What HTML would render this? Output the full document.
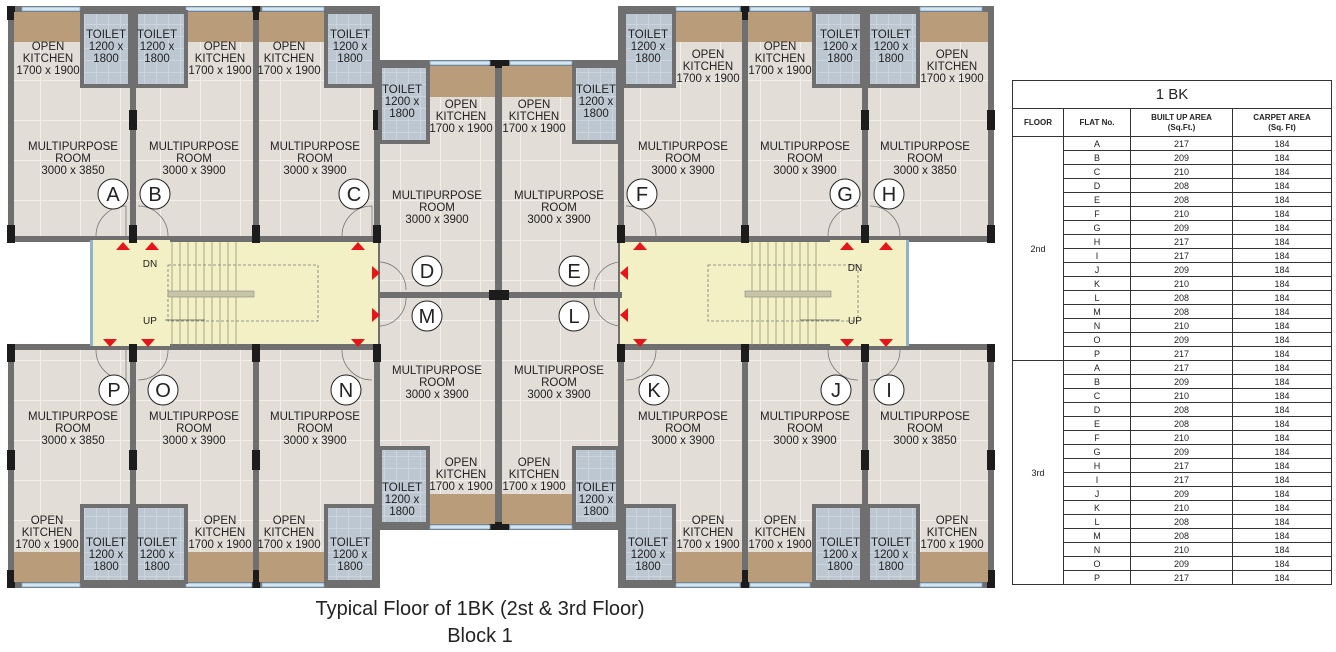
<!DOCTYPE html>
<html><head><meta charset="utf-8"><style>
body{margin:0;width:1336px;height:652px;background:#fff;position:relative;overflow:hidden;font-family:"Liberation Sans",sans-serif}
svg{position:absolute;left:0;top:0}
svg text{font-family:"Liberation Sans",sans-serif;fill:#222;text-anchor:middle}
.t{font-size:11.5px}
.c{font-size:20px}
table{position:absolute;left:1012px;top:80px;width:320px;border-collapse:collapse;font-family:"Liberation Sans",sans-serif;font-size:9px;color:#222}
td{border:1px solid #333;text-align:center;height:13px;padding:0;line-height:12px}
.h td{font-weight:bold;font-size:8px;height:27px;line-height:10px}
</style></head><body>
<svg width="1336" height="652" viewBox="0 0 1336 652">
<defs>
<pattern id="tile" width="40" height="40" patternUnits="userSpaceOnUse">
<rect width="40" height="40" fill="#e3ddd7"/><path d="M0 0.5H40M0.5 0V40" stroke="#f3f0ec" stroke-width="1"/>
</pattern>
<pattern id="tt" width="12" height="12" patternUnits="userSpaceOnUse">
<rect width="12" height="12" fill="#bcc7d2"/><path d="M0 0.5H12M0.5 0V12" stroke="#ccd5de" stroke-width="1"/>
</pattern>
</defs>
<!-- wall blocks -->
<g fill="#6f6f6f">
<rect x="8" y="6" width="372" height="236"/>
<rect x="8" y="344" width="372" height="244"/>
<rect x="374" y="60" width="250" height="470"/>
<rect x="618" y="6" width="376" height="236"/>
<rect x="618" y="344" width="376" height="244"/>
</g>
<g fill="url(#tile)">
<rect x="14" y="12" width="360" height="224"/>
<rect x="14" y="350" width="360" height="232"/>
<rect x="380" y="66" width="238" height="458"/>
<rect x="624" y="12" width="364" height="224"/>
<rect x="624" y="350" width="364" height="232"/>
</g>
<!-- corridors -->
<rect x="92" y="240" width="286" height="106" fill="#f3f0c5"/>
<rect x="620" y="240" width="288" height="106" fill="#f3f0c5"/>
<rect x="90" y="240" width="3" height="106" fill="#8fb3cc"/>
<rect x="906" y="240" width="3" height="106" fill="#8fb3cc"/>
<!-- internal walls -->
<g fill="#6f6f6f">
<rect x="130" y="12" width="6" height="226"/><rect x="253" y="12" width="6" height="226"/>
<rect x="130" y="350" width="6" height="234"/><rect x="253" y="350" width="6" height="234"/>
<rect x="495" y="66" width="7" height="458"/><rect x="378" y="292" width="244" height="6"/>
<rect x="742" y="12" width="6" height="226"/><rect x="862" y="12" width="6" height="226"/>
<rect x="742" y="350" width="6" height="234"/><rect x="862" y="350" width="6" height="234"/>
<rect x="170" y="236" width="208" height="6"/><rect x="170" y="344" width="208" height="6"/>
<rect x="620" y="236" width="210" height="6"/><rect x="620" y="344" width="210" height="6"/>
</g>
<g fill="#1c1c1c">
<rect x="7" y="6" width="8" height="14"/><rect x="129" y="110" width="8" height="20"/><rect x="252" y="6" width="8" height="14"/><rect x="373" y="110" width="8" height="20"/>
<rect x="7" y="225" width="8" height="18"/><rect x="129" y="225" width="8" height="18"/><rect x="252" y="225" width="8" height="18"/><rect x="373" y="225" width="8" height="18"/>
<rect x="7" y="344" width="8" height="18"/><rect x="129" y="344" width="8" height="18"/><rect x="252" y="344" width="8" height="18"/><rect x="373" y="344" width="8" height="18"/>
<rect x="7" y="450" width="8" height="20"/><rect x="129" y="450" width="8" height="20"/><rect x="252" y="450" width="8" height="20"/><rect x="7" y="570" width="8" height="18"/><rect x="252" y="570" width="8" height="18"/>
<rect x="617" y="225" width="8" height="18"/><rect x="741" y="225" width="8" height="18"/><rect x="861" y="225" width="8" height="18"/><rect x="987" y="225" width="8" height="18"/>
<rect x="617" y="344" width="8" height="18"/><rect x="741" y="344" width="8" height="18"/><rect x="861" y="344" width="8" height="18"/><rect x="987" y="344" width="8" height="18"/>
<rect x="741" y="6" width="8" height="14"/><rect x="987" y="110" width="8" height="20"/><rect x="861" y="110" width="8" height="20"/><rect x="987" y="450" width="8" height="20"/><rect x="861" y="450" width="8" height="20"/><rect x="741" y="570" width="8" height="18"/><rect x="987" y="570" width="8" height="18"/>
<rect x="489" y="60" width="20" height="8"/><rect x="489" y="290" width="20" height="10"/><rect x="489" y="522" width="20" height="8"/>
</g>
<!-- windows -->
<g fill="#d5e6f2" stroke="#7fa6c2" stroke-width="0.8">
<rect x="22" y="7" width="58" height="4"/><rect x="186" y="7" width="66" height="4"/><rect x="262" y="7" width="62" height="4"/>
<rect x="676" y="7" width="64" height="4"/><rect x="750" y="7" width="60" height="4"/><rect x="920" y="7" width="62" height="4"/>
<rect x="22" y="583" width="58" height="4"/><rect x="186" y="583" width="66" height="4"/><rect x="262" y="583" width="62" height="4"/>
<rect x="676" y="583" width="64" height="4"/><rect x="750" y="583" width="60" height="4"/><rect x="920" y="583" width="62" height="4"/>
<rect x="430" y="61" width="60" height="4"/><rect x="510" y="61" width="62" height="4"/><rect x="430" y="525" width="60" height="4"/><rect x="510" y="525" width="62" height="4"/>
</g>
<!-- kitchen bands -->
<g fill="#b99c7a">
<rect x="14" y="12" width="66" height="30"/><rect x="136" y="12" width="117" height="30"/><rect x="259" y="12" width="65" height="30"/>
<rect x="430" y="66" width="65" height="31"/><rect x="502" y="66" width="72" height="31"/>
<rect x="674" y="12" width="68" height="30"/><rect x="748" y="12" width="64" height="30"/><rect x="918" y="12" width="70" height="30"/>
<rect x="14" y="552" width="66" height="30"/><rect x="136" y="552" width="117" height="30"/><rect x="259" y="552" width="65" height="30"/>
<rect x="430" y="494" width="65" height="30"/><rect x="502" y="494" width="72" height="30"/>
<rect x="674" y="552" width="68" height="30"/><rect x="748" y="552" width="64" height="30"/><rect x="918" y="552" width="70" height="30"/>
</g>
<!-- toilets -->
<g fill="url(#tt)" stroke="#6f6f6f" stroke-width="4">
<rect x="82" y="12" width="48" height="74"/><rect x="136" y="12" width="50" height="74"/><rect x="326" y="12" width="48" height="74"/>
<rect x="380" y="66" width="48" height="76"/><rect x="574" y="66" width="44" height="76"/>
<rect x="624" y="12" width="50" height="74"/><rect x="814" y="12" width="48" height="74"/><rect x="868" y="12" width="50" height="74"/>
<rect x="82" y="506" width="48" height="76"/><rect x="136" y="506" width="50" height="76"/><rect x="326" y="506" width="48" height="76"/>
<rect x="380" y="448" width="48" height="76"/><rect x="574" y="448" width="44" height="76"/>
<rect x="624" y="506" width="50" height="76"/><rect x="814" y="506" width="48" height="76"/><rect x="868" y="506" width="50" height="76"/>
</g>
<!-- stairs -->
<g stroke="#8a8a70" stroke-width="0.7">
<path d="M172 242V346M180 242V346M188 242V346M196 242V346M204 242V346M212 242V346M220 242V346M228 242V346M236 242V346"/>
<path d="M752 242V346M760 242V346M768 242V346M776 242V346M784 242V346M792 242V346M800 242V346M808 242V346M816 242V346"/>
</g>
<g fill="none" stroke="#777" stroke-width="0.8" stroke-dasharray="3 2">
<rect x="168" y="265" width="150" height="56"/><rect x="708" y="265" width="150" height="56"/>
</g>
<rect x="168" y="291" width="86" height="6" fill="#c8c4a8" stroke="#888" stroke-width="0.6"/>
<rect x="745" y="291" width="86" height="6" fill="#c8c4a8" stroke="#888" stroke-width="0.6"/>
<path d="M165 320H205M800 320H840" stroke="#555" stroke-width="0.8"/>
<!-- red triangles -->
<g fill="#e8141a">
<path d="M116 250l7-8 7 8zM145 250l7-8 7 8zM351 250l7-8 7 8z"/>
<path d="M103 339l7 8 7-8zM141 339l7 8 7-8zM351 339l7 8 7-8z"/>
<path d="M372 266l8 7-8 7zM372 308l8 7-8 7z"/>
<path d="M628 266l-8 7 8 7zM628 308l-8 7 8 7z"/>
<path d="M633 250l7-8 7 8zM840 250l7-8 7 8zM879 250l7-8 7 8z"/>
<path d="M633 339l7 8 7-8zM840 339l7 8 7-8zM879 339l7 8 7-8z"/>
</g>
<text x="150" y="267" class="t" style="font-size:10px">DN</text>
<text x="150" y="324" class="t" style="font-size:10px">UP</text>
<text x="855" y="271" class="t" style="font-size:10px">DN</text>
<text x="855" y="324" class="t" style="font-size:10px">UP</text>
<!-- door arcs -->
<g fill="none" stroke="#777" stroke-width="0.8">
<path d="M96 236a30 30 0 0 1 30-30V236M138 206a30 30 0 0 1 30 30M342 236a30 30 0 0 1 30-30V236"/>
<path d="M380 262a28 28 0 0 1 26 28M380 326a28 28 0 0 0 26-28M620 262a28 28 0 0 0-26 28M620 326a28 28 0 0 1-26-28"/>
<path d="M626 206a30 30 0 0 1 30 30M828 236a30 30 0 0 1 30-30M870 206a30 30 0 0 1 30 30"/>
<path d="M96 350a30 30 0 0 0 30 30V350M138 380a30 30 0 0 0 30-30M342 350a30 30 0 0 0 30 30"/>
<path d="M626 380a30 30 0 0 0 30-30M828 350a30 30 0 0 0 30 30M870 380a30 30 0 0 0 30-30"/>
</g>
<!-- circles -->
<g fill="#fff" stroke="#222" stroke-width="1">
<circle cx="113" cy="194" r="15"/><circle cx="155" cy="194" r="15"/><circle cx="354" cy="194" r="15"/>
<circle cx="427" cy="271" r="15"/><circle cx="574" cy="271" r="15"/><circle cx="427" cy="316" r="15"/><circle cx="574" cy="316" r="15"/>
<circle cx="642" cy="194" r="15"/><circle cx="845" cy="194" r="15"/><circle cx="889" cy="194" r="15"/>
<circle cx="114" cy="390" r="15"/><circle cx="163" cy="390" r="15"/><circle cx="346" cy="390" r="15"/>
<circle cx="654" cy="390" r="15"/><circle cx="836" cy="390" r="15"/><circle cx="889" cy="390" r="15"/>
</g>
<g class="c">
<text x="113" y="201">A</text><text x="155" y="201">B</text><text x="354" y="201">C</text>
<text x="427" y="278">D</text><text x="574" y="278">E</text><text x="427" y="323">M</text><text x="574" y="323">L</text>
<text x="642" y="201">F</text><text x="845" y="201">G</text><text x="889" y="201">H</text>
<text x="114" y="397">P</text><text x="163" y="397">O</text><text x="346" y="397">N</text>
<text x="654" y="397">K</text><text x="836" y="397">J</text><text x="889" y="397">I</text>
</g>
<g class="t">
<!-- top left -->
<text x="48" y="50">OPEN</text><text x="48" y="62">KITCHEN</text><text x="48" y="74">1700 x 1900</text>
<text x="106" y="38">TOILET</text><text x="106" y="50">1200 x</text><text x="106" y="62">1800</text>
<text x="157" y="38">TOILET</text><text x="157" y="50">1200 x</text><text x="157" y="62">1800</text>
<text x="220" y="50">OPEN</text><text x="220" y="62">KITCHEN</text><text x="220" y="74">1700 x 1900</text>
<text x="289" y="50">OPEN</text><text x="289" y="62">KITCHEN</text><text x="289" y="74">1700 x 1900</text>
<text x="350" y="38">TOILET</text><text x="350" y="50">1200 x</text><text x="350" y="62">1800</text>
<text x="73" y="150">MULTIPURPOSE</text><text x="73" y="162">ROOM</text><text x="73" y="174">3000 x 3850</text>
<text x="194" y="150">MULTIPURPOSE</text><text x="194" y="162">ROOM</text><text x="194" y="174">3000 x 3900</text>
<text x="315" y="150">MULTIPURPOSE</text><text x="315" y="162">ROOM</text><text x="315" y="174">3000 x 3900</text>
<!-- center -->
<text x="402" y="93">TOILET</text><text x="402" y="105">1200 x</text><text x="402" y="117">1800</text>
<text x="461" y="108">OPEN</text><text x="461" y="120">KITCHEN</text><text x="461" y="132">1700 x 1900</text>
<text x="534" y="108">OPEN</text><text x="534" y="120">KITCHEN</text><text x="534" y="132">1700 x 1900</text>
<text x="596" y="93">TOILET</text><text x="596" y="105">1200 x</text><text x="596" y="117">1800</text>
<text x="437" y="199">MULTIPURPOSE</text><text x="437" y="211">ROOM</text><text x="437" y="223">3000 x 3900</text>
<text x="559" y="199">MULTIPURPOSE</text><text x="559" y="211">ROOM</text><text x="559" y="223">3000 x 3900</text>
<text x="437" y="374">MULTIPURPOSE</text><text x="437" y="386">ROOM</text><text x="437" y="398">3000 x 3900</text>
<text x="559" y="374">MULTIPURPOSE</text><text x="559" y="386">ROOM</text><text x="559" y="398">3000 x 3900</text>
<text x="402" y="491">TOILET</text><text x="402" y="503">1200 x</text><text x="402" y="515">1800</text>
<text x="461" y="466">OPEN</text><text x="461" y="478">KITCHEN</text><text x="461" y="490">1700 x 1900</text>
<text x="534" y="466">OPEN</text><text x="534" y="478">KITCHEN</text><text x="534" y="490">1700 x 1900</text>
<text x="596" y="491">TOILET</text><text x="596" y="503">1200 x</text><text x="596" y="515">1800</text>
<!-- top right -->
<text x="648" y="38">TOILET</text><text x="648" y="50">1200 x</text><text x="648" y="62">1800</text>
<text x="708" y="58">OPEN</text><text x="708" y="70">KITCHEN</text><text x="708" y="82">1700 x 1900</text>
<text x="780" y="50">OPEN</text><text x="780" y="62">KITCHEN</text><text x="780" y="74">1700 x 1900</text>
<text x="840" y="38">TOILET</text><text x="840" y="50">1200 x</text><text x="840" y="62">1800</text>
<text x="891" y="38">TOILET</text><text x="891" y="50">1200 x</text><text x="891" y="62">1800</text>
<text x="952" y="58">OPEN</text><text x="952" y="70">KITCHEN</text><text x="952" y="82">1700 x 1900</text>
<text x="683" y="150">MULTIPURPOSE</text><text x="683" y="162">ROOM</text><text x="683" y="174">3000 x 3900</text>
<text x="805" y="150">MULTIPURPOSE</text><text x="805" y="162">ROOM</text><text x="805" y="174">3000 x 3900</text>
<text x="925" y="150">MULTIPURPOSE</text><text x="925" y="162">ROOM</text><text x="925" y="174">3000 x 3850</text>
<!-- bottom left -->
<text x="73" y="420">MULTIPURPOSE</text><text x="73" y="432">ROOM</text><text x="73" y="444">3000 x 3850</text>
<text x="194" y="420">MULTIPURPOSE</text><text x="194" y="432">ROOM</text><text x="194" y="444">3000 x 3900</text>
<text x="315" y="420">MULTIPURPOSE</text><text x="315" y="432">ROOM</text><text x="315" y="444">3000 x 3900</text>
<text x="47" y="524">OPEN</text><text x="47" y="536">KITCHEN</text><text x="47" y="548">1700 x 1900</text>
<text x="106" y="546">TOILET</text><text x="106" y="558">1200 x</text><text x="106" y="570">1800</text>
<text x="157" y="546">TOILET</text><text x="157" y="558">1200 x</text><text x="157" y="570">1800</text>
<text x="220" y="524">OPEN</text><text x="220" y="536">KITCHEN</text><text x="220" y="548">1700 x 1900</text>
<text x="289" y="524">OPEN</text><text x="289" y="536">KITCHEN</text><text x="289" y="548">1700 x 1900</text>
<text x="350" y="546">TOILET</text><text x="350" y="558">1200 x</text><text x="350" y="570">1800</text>
<!-- bottom right -->
<text x="683" y="420">MULTIPURPOSE</text><text x="683" y="432">ROOM</text><text x="683" y="444">3000 x 3900</text>
<text x="805" y="420">MULTIPURPOSE</text><text x="805" y="432">ROOM</text><text x="805" y="444">3000 x 3900</text>
<text x="925" y="420">MULTIPURPOSE</text><text x="925" y="432">ROOM</text><text x="925" y="444">3000 x 3850</text>
<text x="648" y="546">TOILET</text><text x="648" y="558">1200 x</text><text x="648" y="570">1800</text>
<text x="708" y="524">OPEN</text><text x="708" y="536">KITCHEN</text><text x="708" y="548">1700 x 1900</text>
<text x="780" y="524">OPEN</text><text x="780" y="536">KITCHEN</text><text x="780" y="548">1700 x 1900</text>
<text x="840" y="546">TOILET</text><text x="840" y="558">1200 x</text><text x="840" y="570">1800</text>
<text x="891" y="546">TOILET</text><text x="891" y="558">1200 x</text><text x="891" y="570">1800</text>
<text x="952" y="524">OPEN</text><text x="952" y="536">KITCHEN</text><text x="952" y="548">1700 x 1900</text>
</g>
<text x="480" y="615" style="font-size:20px">Typical Floor of 1BK (2st &amp; 3rd Floor)</text>
<text x="480" y="642" style="font-size:20px">Block 1</text>
</svg>
<table>
<tr><td colspan="4" style="height:27px;font-size:15px;font-weight:normal">1 BK</td></tr>
<tr class="h"><td style="width:50px">FLOOR</td><td style="width:66px">FLAT No.</td><td style="width:101px">BUILT UP AREA<br>(Sq.Ft.)</td><td>CARPET AREA<br>(Sq. Ft)</td></tr>
<tr><td rowspan="16">2nd</td><td>A</td><td>217</td><td>184</td></tr>
<tr><td>B</td><td>209</td><td>184</td></tr>
<tr><td>C</td><td>210</td><td>184</td></tr>
<tr><td>D</td><td>208</td><td>184</td></tr>
<tr><td>E</td><td>208</td><td>184</td></tr>
<tr><td>F</td><td>210</td><td>184</td></tr>
<tr><td>G</td><td>209</td><td>184</td></tr>
<tr><td>H</td><td>217</td><td>184</td></tr>
<tr><td>I</td><td>217</td><td>184</td></tr>
<tr><td>J</td><td>209</td><td>184</td></tr>
<tr><td>K</td><td>210</td><td>184</td></tr>
<tr><td>L</td><td>208</td><td>184</td></tr>
<tr><td>M</td><td>208</td><td>184</td></tr>
<tr><td>N</td><td>210</td><td>184</td></tr>
<tr><td>O</td><td>209</td><td>184</td></tr>
<tr><td>P</td><td>217</td><td>184</td></tr>
<tr><td rowspan="16">3rd</td><td>A</td><td>217</td><td>184</td></tr>
<tr><td>B</td><td>209</td><td>184</td></tr>
<tr><td>C</td><td>210</td><td>184</td></tr>
<tr><td>D</td><td>208</td><td>184</td></tr>
<tr><td>E</td><td>208</td><td>184</td></tr>
<tr><td>F</td><td>210</td><td>184</td></tr>
<tr><td>G</td><td>209</td><td>184</td></tr>
<tr><td>H</td><td>217</td><td>184</td></tr>
<tr><td>I</td><td>217</td><td>184</td></tr>
<tr><td>J</td><td>209</td><td>184</td></tr>
<tr><td>K</td><td>210</td><td>184</td></tr>
<tr><td>L</td><td>208</td><td>184</td></tr>
<tr><td>M</td><td>208</td><td>184</td></tr>
<tr><td>N</td><td>210</td><td>184</td></tr>
<tr><td>O</td><td>209</td><td>184</td></tr>
<tr><td>P</td><td>217</td><td>184</td></tr>
</table>
</body></html>
